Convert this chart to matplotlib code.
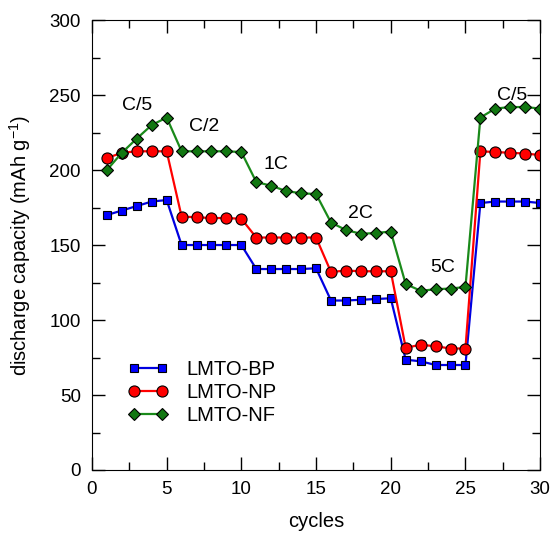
import matplotlib
matplotlib.use("Agg")
import matplotlib.pyplot as plt
from matplotlib.ticker import MultipleLocator

plt.rcParams["font.family"] = ["Liberation Sans", "DejaVu Sans"]
plt.rcParams["mathtext.fontset"] = "custom"
plt.rcParams["mathtext.rm"] = "Liberation Sans"

# ── Dados ────────────────────────────────────────────────────────────────────
cycles = list(range(1, 31))

lmto_bp = [170, 173, 176, 179, 180,
           150, 150, 150, 150, 150,
           134, 134, 134, 134, 134.5,
           113, 113, 113.5, 114, 114.5,
           73.5, 72.5, 70, 70, 70,
           178, 179, 179, 179, 178]

lmto_np = [208, 211.5, 212.5, 212.5, 212.5,
           169, 168.5, 168, 168, 167.5,
           155, 155, 155, 155, 155,
           132, 133, 132.5, 132.5, 132.5,
           81.5, 83.5, 82.5, 81, 81,
           212.5, 212, 211.5, 211, 210]

lmto_nf = [200, 211.5, 221, 230, 235,
           212.5, 212.5, 212.5, 212.5, 212,
           192, 189.5, 186, 184.5, 184,
           165, 160, 157.5, 158, 159,
           124, 119.5, 120.5, 121, 122,
           235, 241, 242, 242, 241]

rate_labels = ["C/5", "C/2", "1C", "2C", "5C", "C/5"]
rate_x = [3.0, 7.5, 12.3, 18.0, 23.5, 28.1]
rate_y = [243, 229, 204, 171, 135, 250]

# ── Gráfico ──────────────────────────────────────────────────────────────────
fig = plt.figure(figsize=(5.54, 5.35), dpi=100)
ax = fig.add_axes([0.166, 0.1215, 0.809, 0.841])

ax.plot(cycles, lmto_bp, "-s", color="#0000e0", lw=1.6, ms=5.5,
        mfc="#0000ff", mec="black", mew=0.8, label="LMTO-BP")
ax.plot(cycles, lmto_np, "-o", color="#ff0000", lw=1.6, ms=8,
        mfc="#ff0000", mec="black", mew=0.8, label="LMTO-NP")
ax.plot(cycles, lmto_nf, "-D", color="#1a8a1a", lw=1.6, ms=6.5,
        mfc="#117711", mec="black", mew=0.8, label="LMTO-NF")

for lab, x, y in zip(rate_labels, rate_x, rate_y):
    ax.text(x, y, lab, ha="center", va="center", fontsize=14)

ax.set_xlim(0, 30)
ax.set_ylim(0, 300)
ax.xaxis.set_major_locator(MultipleLocator(5))
ax.xaxis.set_minor_locator(MultipleLocator(2.5))
ax.yaxis.set_major_locator(MultipleLocator(50))
ax.yaxis.set_minor_locator(MultipleLocator(25))
ax.tick_params(which="both", direction="in", top=True, right=True,
               labelsize=13.5, pad=8)
ax.tick_params(which="major", length=9.5, width=1)
ax.tick_params(which="minor", length=5.5, width=1)

ax.set_xlabel("cycles", fontsize=14.5, labelpad=10)
ax.set_ylabel("discharge capacity (mAh g$^{\\mathregular{-1}}$)", fontsize=14.5,
              labelpad=12)

ax.legend(loc="upper left", bbox_to_anchor=(0.04, 0.285), frameon=False,
          numpoints=2, fontsize=14.5, handlelength=2.0, labelspacing=0.2,
          handletextpad=0.9)

plt.savefig("out.png", dpi=100)
plt.close()
